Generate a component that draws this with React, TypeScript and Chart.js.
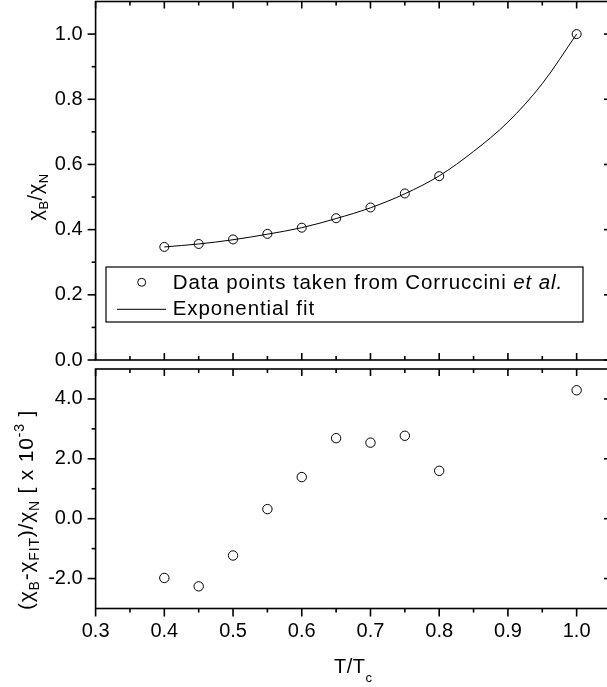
import React, { useEffect, useRef } from "react";
import { Chart, registerables } from "chart.js";

Chart.register(...registerables);

const FONT = '"Liberation Sans", Arial, Helvetica, sans-serif';

// ---- data ----
const T_DATA = [0.4, 0.45, 0.5, 0.55, 0.6, 0.65, 0.7, 0.75, 0.8, 1.0];
const CHI_DATA = [0.347, 0.356, 0.37, 0.387, 0.406, 0.435, 0.468, 0.511, 0.564, 1.0];
const T_FIT = [0.4, 0.45, 0.5, 0.55, 0.6, 0.65, 0.7, 0.75, 0.8, 0.85, 0.9, 0.95, 1.0];
const CHI_FIT = [0.347, 0.356, 0.369, 0.386, 0.406, 0.434, 0.467, 0.51, 0.565, 0.64, 0.73, 0.848, 1.0];
const RESIDUAL = [-1.98, -2.26, -1.23, 0.32, 1.39, 2.69, 2.54, 2.77, 1.6, 4.29];

// ---- ticks ----
const X_RANGE = [0.3, 1.05];
const X_TICKS = [0.3, 0.4, 0.5, 0.6, 0.7, 0.8, 0.9, 1.0];
const X_MINOR = [0.35, 0.45, 0.55, 0.65, 0.75, 0.85, 0.95];
const TOP_Y_RANGE = [0, 1.1];
const TOP_Y_TICKS = [0, 0.2, 0.4, 0.6, 0.8, 1.0];
const TOP_Y_MINOR = [0.1, 0.3, 0.5, 0.7, 0.9];
const BOT_Y_RANGE = [-3, 5];
const BOT_Y_TICKS = [-2, 0, 2, 4];
const BOT_Y_MINOR = [-1, 1, 3];

// ---- text ----
type Seg = { t: string; sub?: boolean; sup?: boolean; it?: boolean };
const TOP_Y_TITLE: Seg[] = [{ t: "χ" }, { t: "B", sub: true }, { t: "/" }, { t: "χ" }, { t: "N", sub: true }];
const BOT_Y_TITLE: Seg[] = [
  { t: "(χ" }, { t: "B", sub: true }, { t: "-χ" }, { t: "FIT", sub: true }, { t: ")/χ" }, { t: "N", sub: true },
  { t: " [ x 10" }, { t: "-3", sup: true }, { t: " ]" },
];
const X_TITLE: Seg[] = [{ t: "T/T" }, { t: "c", sub: true }];
const LEGEND_DATA: Seg[] = [{ t: "Data points taken from Corruccini " }, { t: "et al.", it: true }];
const LEGEND_FIT: Seg[] = [{ t: "Exponential fit" }];

const SIZE = 20;
const OUT_MAJ = 8, OUT_MIN = 4, IN_MAJ = 7, IN_MIN = 4;

function fontOf(s: Seg, size: number) {
  const small = Math.round(size * 0.65);
  return `${s.it ? "italic " : ""}${s.sub || s.sup ? small : size}px ${FONT}`;
}

function drawRich(
  ctx: CanvasRenderingContext2D,
  segs: Seg[],
  x: number,
  y: number,
  size: number,
  rotate: boolean,
  align: "center" | "left" = "center",
  subOff = 0.3,
  spacing = 0
) {
  ctx.save();
  (ctx as any).letterSpacing = spacing + "px";
  let total = 0;
  const ws = segs.map((s) => {
    ctx.font = fontOf(s, size);
    const w = ctx.measureText(s.t).width;
    total += w;
    return w;
  });
  ctx.translate(x, y);
  if (rotate) ctx.rotate(-Math.PI / 2);
  ctx.fillStyle = "#000";
  ctx.textBaseline = "alphabetic";
  ctx.textAlign = "left";
  let cx = align === "center" ? -total / 2 : 0;
  segs.forEach((s, i) => {
    ctx.font = fontOf(s, size);
    const dy = s.sub ? size * subOff : s.sup ? -size * 0.42 : 0;
    ctx.fillText(s.t, cx, dy);
    cx += ws[i];
  });
  ctx.restore();
}

function framePlugin(o: { yMajor: number[]; yMinor: number[]; bottomOut: boolean; extra?: (chart: any) => void }) {
  return {
    id: "frame",
    afterDraw(chart: any) {
      const ctx: CanvasRenderingContext2D = chart.ctx;
      const a = chart.chartArea;
      const xs = chart.scales.x;
      const ys = chart.scales.y;
      ctx.save();
      ctx.strokeStyle = "#000";
      ctx.lineWidth = 1.6;
      const seg = (x1: number, y1: number, x2: number, y2: number) => {
        ctx.beginPath();
        ctx.moveTo(x1, y1);
        ctx.lineTo(x2, y2);
        ctx.stroke();
      };
      ctx.strokeRect(a.left, a.top, a.right - a.left, a.bottom - a.top);
      const xt = (vals: number[], inn: number, out: number) =>
        vals.forEach((v) => {
          const p = xs.getPixelForValue(v);
          seg(p, a.top, p, a.top + inn);
          if (o.bottomOut) seg(p, a.bottom, p, a.bottom + out);
          else seg(p, a.bottom, p, a.bottom - inn);
        });
      xt(X_TICKS, IN_MAJ, OUT_MAJ);
      xt(X_MINOR, IN_MIN, OUT_MIN);
      const yt = (vals: number[], inn: number, out: number) =>
        vals.forEach((v) => {
          const p = ys.getPixelForValue(v);
          seg(a.left - out, p, a.left, p);
          seg(a.right, p, a.right - inn, p);
        });
      yt(o.yMajor, IN_MAJ, OUT_MAJ);
      yt(o.yMinor, IN_MIN, OUT_MIN);
      ctx.restore();
      if (o.extra) o.extra(chart);
    },
  };
}

const tickFont = { family: FONT, size: SIZE };
const noPad = (s: any) => {
  s.paddingTop = 0;
  s.paddingBottom = 0;
  s.paddingLeft = 0;
  s.paddingRight = 0;
};

export default function App() {
  const topRef = useRef<HTMLCanvasElement>(null);
  const botRef = useRef<HTMLCanvasElement>(null);

  useEffect(() => {
    document.body.style.margin = "0";
    const top = new Chart(topRef.current as HTMLCanvasElement, {
      type: "scatter",
      data: {
        datasets: [
          {
            label: "Data points taken from Corruccini et al.",
            data: T_DATA.map((x, i) => ({ x, y: CHI_DATA[i] })),
            showLine: false,
            pointStyle: "circle",
            pointRadius: 4.5,
            pointBorderWidth: 1,
            pointBorderColor: "#000",
            pointBackgroundColor: "rgba(0,0,0,0)",
          },
          {
            label: "Exponential fit",
            data: T_FIT.map((x, i) => ({ x, y: CHI_FIT[i] })),
            showLine: true,
            pointRadius: 0,
            borderColor: "#000",
            borderWidth: 1,
            cubicInterpolationMode: "monotone",
          },
        ],
      } as any,
      options: {
        animation: false,
        responsive: false,
        events: [],
        layout: { autoPadding: false, padding: { left: 0, right: 0, top: 1.5, bottom: 8 } },
        plugins: { legend: { display: false }, tooltip: { enabled: false } },
        scales: {
          x: { type: "linear", min: X_RANGE[0], max: X_RANGE[1], display: false },
          y: {
            type: "linear",
            min: TOP_Y_RANGE[0],
            max: TOP_Y_RANGE[1],
            afterFit: (s: any) => { s.width = 95.6; noPad(s); },
            afterBuildTicks: (s: any) => { s.ticks = TOP_Y_TICKS.map((v) => ({ value: v })); },
            ticks: { callback: (v: any) => Number(v).toFixed(1), font: tickFont, color: "#000", padding: 13 },
            grid: { display: false, drawTicks: false },
            border: { display: false },
          },
        },
      } as any,
      plugins: [
        framePlugin({
          yMajor: TOP_Y_TICKS,
          yMinor: TOP_Y_MINOR,
          bottomOut: false,
          extra: (chart: any) => {
            const ctx: CanvasRenderingContext2D = chart.ctx;
            drawRich(ctx, TOP_Y_TITLE, 42, 197, SIZE, true, "center", 0.3, 0.5);
            // legend
            ctx.save();
            ctx.strokeStyle = "#000";
            ctx.lineWidth = 1.2;
            ctx.strokeRect(106, 267, 583 - 106, 322 - 267);
            ctx.lineWidth = 1;
            ctx.beginPath();
            ctx.arc(141.7, 282.3, 4, 0, Math.PI * 2);
            ctx.stroke();
            ctx.beginPath();
            ctx.moveTo(117, 309.3);
            ctx.lineTo(166, 309.3);
            ctx.stroke();
            ctx.restore();
            drawRich(ctx, LEGEND_DATA, 172.7, 289.3, 20.5, false, "left", 0.3, 0.9);
            drawRich(ctx, LEGEND_FIT, 172.7, 315.3, 20.5, false, "left", 0.3, 0.9);
          },
        }),
      ],
    });

    const bot = new Chart(botRef.current as HTMLCanvasElement, {
      type: "scatter",
      data: {
        datasets: [
          {
            label: "residual",
            data: T_DATA.map((x, i) => ({ x, y: RESIDUAL[i] })),
            showLine: false,
            pointStyle: "circle",
            pointRadius: 4.7,
            pointBorderWidth: 1,
            pointBorderColor: "#000",
            pointBackgroundColor: "rgba(0,0,0,0)",
          },
        ],
      } as any,
      options: {
        animation: false,
        responsive: false,
        events: [],
        layout: { autoPadding: false, padding: { left: 0, right: 0, top: 5, bottom: 0 } },
        plugins: { legend: { display: false }, tooltip: { enabled: false } },
        scales: {
          x: {
            type: "linear",
            min: X_RANGE[0],
            max: X_RANGE[1],
            afterFit: (s: any) => { s.height = 78.5; noPad(s); },
            afterBuildTicks: (s: any) => { s.ticks = X_TICKS.map((v) => ({ value: v })); },
            ticks: { callback: (v: any) => Number(v).toFixed(1), font: tickFont, color: "#000", padding: 11, maxRotation: 0 },
            grid: { display: false, drawTicks: false },
            border: { display: false },
          },
          y: {
            type: "linear",
            min: BOT_Y_RANGE[0],
            max: BOT_Y_RANGE[1],
            afterFit: (s: any) => { s.width = 95.6; noPad(s); },
            afterBuildTicks: (s: any) => { s.ticks = BOT_Y_TICKS.map((v) => ({ value: v })); },
            ticks: { callback: (v: any) => Number(v).toFixed(1), font: tickFont, color: "#000", padding: 13 },
            grid: { display: false, drawTicks: false },
            border: { display: false },
          },
        },
      } as any,
      plugins: [
        framePlugin({
          yMajor: BOT_Y_TICKS,
          yMinor: BOT_Y_MINOR,
          bottomOut: true,
          extra: (chart: any) => {
            const ctx: CanvasRenderingContext2D = chart.ctx;
            const a = chart.chartArea;
            drawRich(ctx, BOT_Y_TITLE, 32.5, 510 - 364, 21, true, "center", 0.3, 0.8);
            drawRich(ctx, X_TITLE, (a.left + a.right) / 2, 673.3 - 364, SIZE, false, "center", 0.42, 0.5);
          },
        }),
      ],
    });

    return () => {
      top.destroy();
      bot.destroy();
    };
  }, []);

  return (
    <div style={{ position: "fixed", left: 0, top: 0, width: 607, height: 687, overflow: "hidden", background: "#fff" }}>
      <canvas ref={topRef} width={611} height={368} style={{ position: "absolute", left: 0, top: 0 }} />
      <canvas ref={botRef} width={611} height={323} style={{ position: "absolute", left: 0, top: 364 }} />
    </div>
  );
}
